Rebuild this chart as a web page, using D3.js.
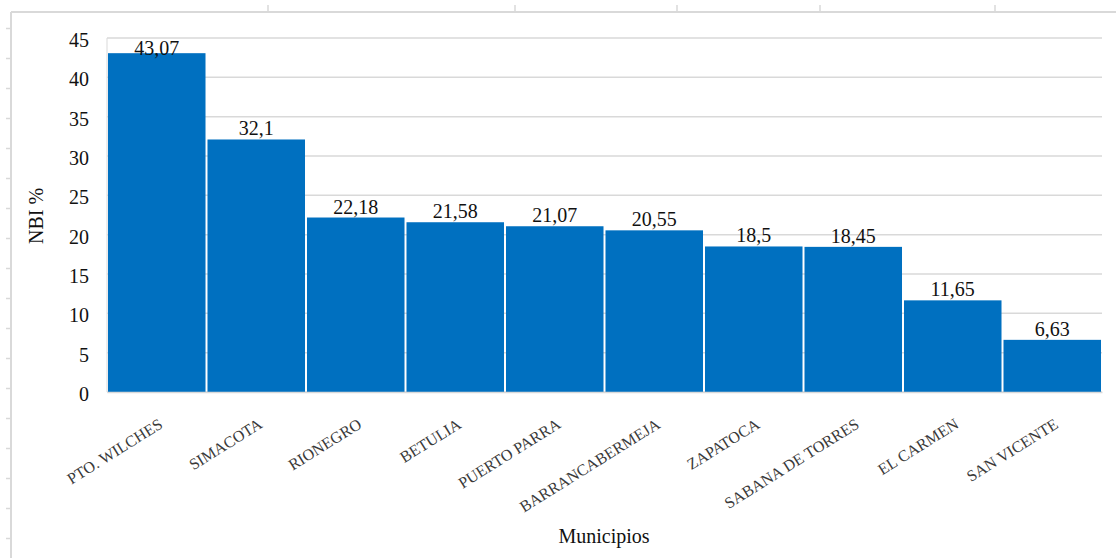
<!DOCTYPE html>
<html>
<head>
<meta charset="utf-8">
<script src="https://cdn.jsdelivr.net/npm/d3@7/dist/d3.min.js"></script>
<style>
  html, body { margin: 0; padding: 0; background: #fff; }
  svg { display: block; }
  svg text { font-family: "Liberation Serif", "Times New Roman", Times, serif !important; }
</style>
</head>
<body>
<svg id="chart" width="1116" height="558"></svg>
<script>
const municipios = ["PTO. WILCHES", "SIMACOTA", "RIONEGRO", "BETULIA", "PUERTO PARRA",
  "BARRANCABERMEJA", "ZAPATOCA", "SABANA DE TORRES", "EL CARMEN", "SAN VICENTE"];
const nbi = [43.07, 32.1, 22.18, 21.58, 21.07, 20.55, 18.5, 18.45, 11.65, 6.63];
const yTicks = [0, 5, 10, 15, 20, 25, 30, 35, 40, 45];
const yTitle = "NBI %";
const xTitle = "Municipios";

const W = 1116, H = 558;
const plot = { left: 107, right: 1102, top: 38, bottom: 392 };

const svg = d3.select("#chart");

// outer frame (cropped page border)
const frame = svg.append("g").attr("stroke", "#d9d9d9").attr("fill", "none");
frame.append("line").attr("x1", 11).attr("x2", W).attr("y1", 12).attr("y2", 12).attr("stroke-width", 2);
frame.append("line").attr("x1", 11).attr("x2", 11).attr("y1", 12).attr("y2", H).attr("stroke-width", 2);
const topMarks = [268, 515, 677, 820, 995];
frame.selectAll("line.tm").data(topMarks).join("line").attr("class", "tm")
  .attr("x1", d => d).attr("x2", d => d).attr("y1", 5).attr("y2", 12).attr("stroke-width", 1.5);
frame.selectAll("line.lm").data(d3.range(28.5, H, 30)).join("line").attr("class", "lm")
  .attr("x1", 6).attr("x2", 11).attr("y1", d => d).attr("y2", d => d).attr("stroke-width", 1.5);

const x = d3.scaleBand().domain(municipios).range([plot.left, plot.right])
  .paddingInner(0.02).paddingOuter(0.01);
const y = d3.scaleLinear().domain([0, 45]).range([plot.bottom, plot.top]);

// gridlines
svg.append("g").selectAll("line").data(yTicks).join("line")
  .attr("x1", plot.left).attr("x2", plot.right)
  .attr("y1", d => y(d)).attr("y2", d => y(d))
  .attr("stroke", "#d9d9d9").attr("stroke-width", 1.5);
svg.append("line").attr("x1", plot.left).attr("x2", plot.left)
  .attr("y1", plot.top).attr("y2", plot.bottom)
  .attr("stroke", "#d9d9d9").attr("stroke-width", 1);

// bars
svg.append("g").selectAll("rect").data(nbi).join("rect")
  .attr("x", (d, i) => x(municipios[i]))
  .attr("width", x.bandwidth())
  .attr("y", d => y(d))
  .attr("height", d => y(0) - y(d))
  .attr("fill", "#0070c0");

// data labels
svg.append("g").selectAll("text").data(nbi).join("text")
  .attr("x", (d, i) => x(municipios[i]) + x.bandwidth() / 2)
  .attr("y", d => Math.max(y(d) - 4, plot.top + 17))
  .attr("text-anchor", "middle")
  .attr("font-size", 20).attr("fill", "#111")
  .text(d => String(d).replace(".", ","));

// y axis labels
const yAxis = d3.axisLeft(y).tickValues(yTicks).tickSize(0).tickPadding(0);
const yg = svg.append("g").attr("transform", `translate(${plot.left - 18},0)`).call(yAxis);
yg.select(".domain").remove();
yg.selectAll("text").attr("font-size", 20)
  .attr("fill", "#111").attr("dy", "0.42em");

// x axis labels
const xAxis = d3.axisBottom(x).tickSize(0).tickPadding(0);
const xg = svg.append("g").attr("transform", `translate(0,${plot.bottom})`).call(xAxis);
xg.select(".domain").attr("stroke", "#d9d9d9").attr("stroke-width", 1.5);
xg.selectAll(".tick text")
  .attr("font-size", 16).attr("fill", "#3a3a3a")
  .attr("text-anchor", "end").attr("dy", 0).attr("y", 0)
  .attr("transform", "translate(7,35) rotate(-32)");

// axis titles
svg.append("text")
  .attr("transform", `translate(43,216) rotate(-90)`)
  .attr("text-anchor", "middle")
  .attr("font-size", 20).attr("fill", "#111")
  .text(yTitle);
svg.append("text")
  .attr("x", 604).attr("y", 543)
  .attr("text-anchor", "middle")
  .attr("font-size", 20).attr("fill", "#111")
  .text(xTitle);
</script>
</body>
</html>
